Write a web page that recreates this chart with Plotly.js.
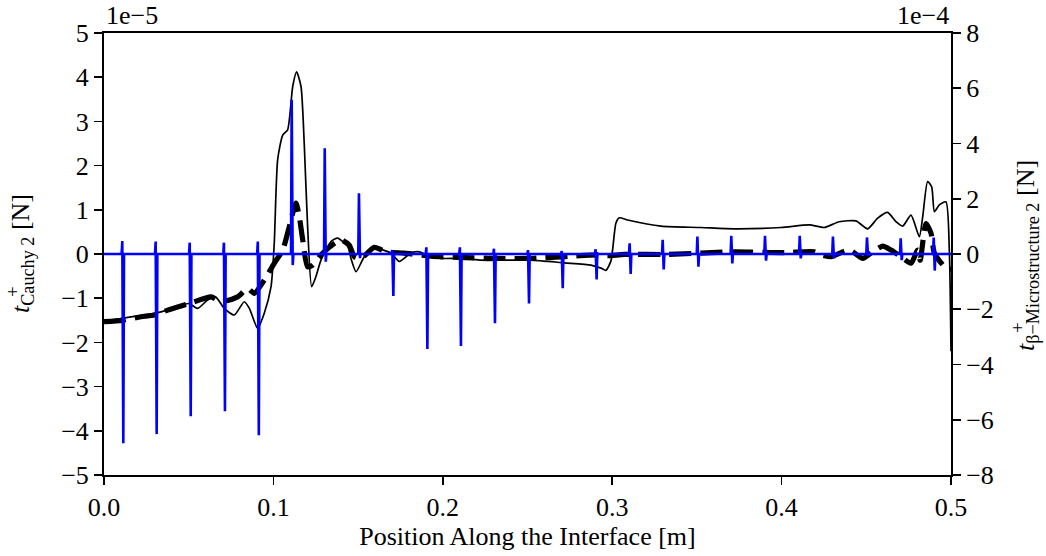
<!DOCTYPE html>
<html>
<head>
<meta charset="utf-8">
<script src="https://cdn.plot.ly/plotly-3.0.1.min.js"></script>
<style>html,body{margin:0;padding:0;background:#fff;}#chart{width:1046px;height:556px;}</style>
</head>
<body>
<div id="chart"></div>
<script>
// Values in displayed units: left axis x1e-5 N, right axis x1e-4 N
var cauchyX = [0.000,0.010,0.020,0.030,0.040,0.050,0.0553,0.0612,0.0661,0.071,0.0769,0.0828,0.0858,0.0907,0.0946,0.0986,0.1005,0.1025,0.1055,0.1084,0.1114,0.1137,0.1163,0.1182,0.1202,0.1226,0.1251,0.1281,0.134,0.1379,0.1439,0.1458,0.1488,0.1537,0.1596,0.1694,0.1743,0.1812,0.1861,0.193,0.1989,0.2127,0.2226,0.2363,0.252,0.2717,0.2875,0.2934,0.2963,0.2993,0.3022,0.3042,0.3091,0.3288,0.3524,0.3721,0.3997,0.4164,0.4252,0.434,0.4439,0.4508,0.4567,0.4626,0.4675,0.4715,0.4764,0.4813,0.4833,0.4862,0.4886,0.4902,0.4931,0.497,0.499,0.500];
var cauchyY = [-1.53,-1.46,-1.40,-1.34,-1.24,-1.12,-1.23,-1.04,-0.98,-1.23,-1.38,-1.08,-1.23,-1.68,-1.34,-0.74,0.24,2.13,2.69,2.81,3.79,4.12,3.79,2.50,0.62,-0.74,-0.51,-0.14,0.28,0.36,0.17,-0.10,-0.40,-0.06,0.13,0.02,-0.17,0.02,0.05,-0.06,-0.10,-0.10,-0.14,-0.14,-0.14,-0.20,-0.25,-0.32,-0.37,-0.15,0.70,0.82,0.77,0.63,0.60,0.57,0.60,0.66,0.60,0.73,0.75,0.57,0.81,0.94,0.73,0.63,0.88,0.39,0.84,1.64,1.52,0.96,1.11,1.18,0.09,-2.2];

var avgX = [0.000,0.011,0.0218,0.0297,0.0376,0.0504,0.0632,0.0691,0.0789,0.0848,0.0887,0.0946,0.1005,0.1055,0.1094,0.1133,0.1153,0.1173,0.1202,0.1232,0.1281,0.136,0.1399,0.1448,0.1478,0.1517,0.1596,0.1665,0.1773,0.193,0.2127,0.2324,0.252,0.2717,0.2914,0.2973,0.3071,0.3327,0.3721,0.4016,0.4193,0.4233,0.4292,0.44,0.4479,0.4528,0.4597,0.4646,0.4705,0.4764,0.4803,0.4818,0.4852,0.4882,0.4902,0.497,0.500];
var avgY = [-1.53,-1.50,-1.42,-1.38,-1.27,-1.12,-0.97,-1.08,-0.97,-0.78,-0.89,-0.59,-0.21,0.09,0.62,1.15,0.84,0.32,-0.29,-0.25,-0.02,0.24,0.32,0.20,-0.06,-0.10,0.15,0.05,0.02,-0.05,-0.08,-0.10,-0.10,-0.06,-0.02,-0.04,-0.01,-0.01,0.05,0.03,0.05,-0.02,-0.06,0.09,-0.10,0.02,0.18,0.09,-0.06,-0.21,0.09,-0.14,0.69,0.47,0.02,-0.32,-0.35];

var spikeX = [0.011,0.0307,0.0508,0.071,0.091,0.111,0.1305,0.1507,0.1704,0.1905,0.2103,0.2304,0.2505,0.2704,0.2904,0.3105,0.330,0.3505,0.3705,0.3904,0.4109,0.4305,0.4506,0.4705,0.490];
var spikeTop = [0.47,0.45,0.41,0.41,0.45,5.58,3.83,2.2,0.14,0.24,0.24,0.19,0.14,0.11,0.17,0.39,0.51,0.63,0.66,0.66,0.66,0.63,0.60,0.57,0.60];
var spikeBottom = [-6.85,-6.52,-5.87,-5.69,-6.56,-0.40,-0.28,-0.15,-1.52,-3.44,-3.33,-2.51,-1.79,-1.24,-0.92,-0.72,-0.56,-0.46,-0.34,-0.24,-0.16,-0.16,-0.07,-0.22,-0.60];

var xTicks = [0.0,0.1,0.2,0.3,0.4,0.5];
var leftTicks = [-5,-4,-3,-2,-1,0,1,2,3,4,5];
var rightTicks = [-8,-6,-4,-2,0,2,4,6,8];

var microX = [0], microY = [0];
for (var i = 0; i < spikeX.length; i++) {
  microX.push(spikeX[i]-0.0006, spikeX[i]-0.0002, spikeX[i]+0.0004, spikeX[i]+0.0008);
  microY.push(0, spikeTop[i], spikeBottom[i], 0);
}
microX.push(0.5); microY.push(0);

var FONT = '"Liberation Serif", "Times New Roman", serif';
var FS = 26;
var traces = [
  {x: cauchyX, y: cauchyY, type: 'scatter', mode: 'lines', line: {color: '#000', width: 1.7, shape: 'spline', smoothing: 0.6}, yaxis: 'y', hoverinfo: 'skip'},
  {x: avgX, y: avgY, type: 'scatter', mode: 'lines', line: {color: '#000', width: 5.2, dash: '22px,9px', shape: 'spline', smoothing: 0.6}, yaxis: 'y', hoverinfo: 'skip'},
  {x: microX, y: microY, type: 'scatter', mode: 'lines', line: {color: '#0000ff', width: 2.6}, yaxis: 'y2', hoverinfo: 'skip'}
];

var L = 104, R = 951, T = 33, B = 475;
function px(x){ return (x - L)/(R - L); }
function py(y){ return (B - y)/(B - T); }

var axisCommon = {
  showgrid: false, zeroline: false, showline: true, linecolor: '#000', linewidth: 2,
  ticks: 'outside', ticklen: 8, tickwidth: 1.6, tickcolor: '#000',
  tickfont: {family: FONT, size: FS, color: '#000'}
};
function minusLabel(v){ return v < 0 ? '\u2212' + Math.abs(v) : String(v); }

var layout = {
  width: 1046, height: 556,
  margin: {l: L, r: 1046 - R, t: T, b: 556 - B, pad: 0},
  paper_bgcolor: '#fff', plot_bgcolor: '#fff',
  showlegend: false,
  xaxis: Object.assign({}, axisCommon, {
    range: [0, 0.5], tickvals: xTicks, ticktext: xTicks.map(function(v){return v.toFixed(1);}),
    mirror: true,
    title: {text: 'Position Along the Interface [m]', font: {family: FONT, size: FS, color: '#000'}, standoff: 6}
  }),
  yaxis: Object.assign({}, axisCommon, {
    range: [-5, 5], tickvals: leftTicks, ticktext: leftTicks.map(minusLabel)
  }),
  yaxis2: Object.assign({}, axisCommon, {
    range: [-8, 8], overlaying: 'y', side: 'right', tickvals: rightTicks,
    ticktext: rightTicks.map(minusLabel)
  }),
  annotations: [
    {text: '1e\u22125', xref: 'paper', yref: 'paper', x: 0, y: 1, xanchor: 'left', yanchor: 'bottom', showarrow: false, font: {family: FONT, size: FS, color: '#000'}, yshift: 1, xshift: 0},
    {text: '1e\u22124', xref: 'paper', yref: 'paper', x: 1, y: 1, xanchor: 'right', yanchor: 'bottom', showarrow: false, font: {family: FONT, size: FS, color: '#000'}, yshift: 1},
    {text: '<i>t</i><sub>Cauchy 2</sub> [N]', xref: 'paper', yref: 'paper', x: px(22), y: py(254), xanchor: 'center', yanchor: 'middle', textangle: -90, showarrow: false, font: {family: FONT, size: FS, color: '#000'}},
    {text: '+', xref: 'paper', yref: 'paper', x: px(12), y: py(292), xanchor: 'center', yanchor: 'middle', textangle: -90, showarrow: false, font: {family: FONT, size: 19, color: '#000'}},
    {text: '<i>t</i><sub>\u03b2\u2212Microstructure 2</sub> [N]', xref: 'paper', yref: 'paper', x: px(1027), y: py(256), xanchor: 'center', yanchor: 'middle', textangle: -90, showarrow: false, font: {family: FONT, size: FS, color: '#000'}},
    {text: '+', xref: 'paper', yref: 'paper', x: px(1017), y: py(328), xanchor: 'center', yanchor: 'middle', textangle: -90, showarrow: false, font: {family: FONT, size: 19, color: '#000'}}
  ]
};

Plotly.newPlot('chart', traces, layout, {staticPlot: true, displayModeBar: false});
</script>
</body>
</html>
